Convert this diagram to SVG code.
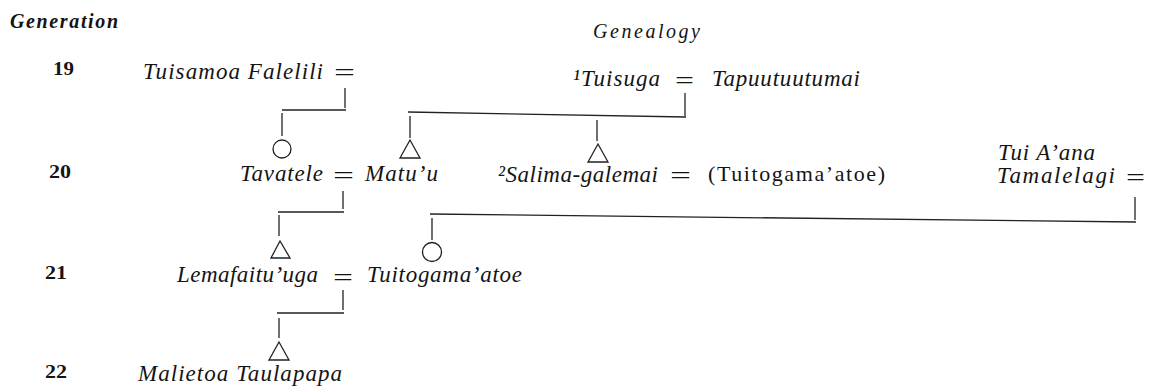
<svg xmlns="http://www.w3.org/2000/svg" width="1155" height="391" viewBox="0 0 1155 391">
<style>
  .t { font-family: "Liberation Serif", "Times New Roman", serif; font-style: italic; font-size: 23px; fill: #141414; }
  .r { font-family: "Liberation Serif", "Times New Roman", serif; font-size: 22px; fill: #141414; }
  .n { font-family: "Liberation Serif", "Times New Roman", serif; font-weight: bold; font-size: 18px; fill: #141414; }
  .h { font-family: "Liberation Serif", "Times New Roman", serif; font-style: italic; font-size: 20px; fill: #141414; }
  .eq { font-family: "Liberation Serif", "Times New Roman", serif; font-size: 24px; fill: #141414; }
  .c line { stroke: #222; stroke-width: 1.3; }
  .sym { fill: none; stroke: #222; stroke-width: 1.3; }
</style>
<rect width="1155" height="391" fill="#ffffff"/>

<g id="headers">
  <text class="h" x="10" y="28" font-weight="bold" textLength="108" lengthAdjust="spacing">Generation</text>
  <text class="h" x="593" y="38" textLength="107" lengthAdjust="spacing">Genealogy</text>
</g>

<g id="generations">
  <text class="n" x="53" y="75" textLength="21" lengthAdjust="spacingAndGlyphs">19</text>
  <text class="n" x="49" y="178" textLength="22" lengthAdjust="spacingAndGlyphs">20</text>
  <text class="n" x="45" y="279" textLength="22" lengthAdjust="spacingAndGlyphs">21</text>
  <text class="n" x="45" y="378" textLength="22" lengthAdjust="spacingAndGlyphs">22</text>
</g>

<g id="connectors" class="c">
  <line x1="345" y1="88" x2="345" y2="108"/>
  <line x1="282" y1="110" x2="346" y2="110"/>
  <line x1="282" y1="113" x2="282" y2="136"/>
  <line x1="685" y1="93" x2="685" y2="116"/>
  <line x1="408" y1="112" x2="686" y2="117"/>
  <line x1="410" y1="116" x2="410" y2="138"/>
  <line x1="597" y1="120" x2="597" y2="141"/>
  <line x1="343" y1="191" x2="343" y2="209"/>
  <line x1="278" y1="212" x2="344" y2="212"/>
  <line x1="279" y1="215" x2="279" y2="236"/>
  <line x1="1135" y1="197" x2="1135" y2="220"/>
  <line x1="430" y1="214" x2="1136" y2="222"/>
  <line x1="432" y1="218" x2="432" y2="240"/>
  <line x1="343" y1="290" x2="343" y2="310"/>
  <line x1="277" y1="313" x2="344" y2="313"/>
  <line x1="279" y1="318" x2="279" y2="338"/>
</g>

<g id="node-tuisamoa">
  <text class="t" x="143" y="79" textLength="180" lengthAdjust="spacing">Tuisamoa Falelili</text>
  <text class="eq" x="334" y="80" textLength="21" lengthAdjust="spacingAndGlyphs">=</text>
</g>

<g id="node-tuisuga">
  <text class="t" x="573" y="86" textLength="87" lengthAdjust="spacing">¹Tuisuga</text>
  <text class="eq" x="675" y="88" textLength="19" lengthAdjust="spacingAndGlyphs">=</text>
  <text class="t" x="712" y="86" textLength="148" lengthAdjust="spacing">Tapuutuutumai</text>
</g>

<g id="node-tavatele">
  <circle class="sym" cx="282" cy="149" r="9"/>
  <text class="t" x="240" y="181" textLength="83" lengthAdjust="spacing">Tavatele</text>
  <text class="eq" x="333" y="183" textLength="21" lengthAdjust="spacingAndGlyphs">=</text>
</g>

<g id="node-matuu">
  <polygon class="sym" points="410,140 400,158 420,158"/>
  <text class="t" x="365" y="181" textLength="73" lengthAdjust="spacing">Matu’u</text>
</g>

<g id="node-salima">
  <polygon class="sym" points="598,144 588,162 608,162"/>
  <text class="t" x="498" y="182" textLength="160" lengthAdjust="spacing">²Salima-galemai</text>
  <text class="eq" x="670" y="183" textLength="21" lengthAdjust="spacingAndGlyphs">=</text>
  <text class="r" x="708" y="181" textLength="177" lengthAdjust="spacing">(Tuitogama’atoe)</text>
</g>

<g id="node-tamalelagi">
  <text class="t" font-size="20" x="998" y="160" textLength="97" lengthAdjust="spacing">Tui A’ana</text>
  <text class="t" font-size="21" x="997" y="183" textLength="118" lengthAdjust="spacing">Tamalelagi</text>
  <text class="eq" x="1126" y="185" textLength="19" lengthAdjust="spacingAndGlyphs">=</text>
</g>

<g id="node-lemafaituuga">
  <polygon class="sym" points="280,241 271,258 290,258"/>
  <text class="t" x="177" y="282" textLength="141" lengthAdjust="spacing">Lemafaitu’uga</text>
  <text class="eq" x="333" y="285" textLength="20" lengthAdjust="spacingAndGlyphs">=</text>
</g>

<g id="node-tuitogamaatoe">
  <circle class="sym" cx="432" cy="252" r="9.5"/>
  <text class="t" x="367" y="282" textLength="155" lengthAdjust="spacing">Tuitogama’atoe</text>
</g>

<g id="node-malietoa">
  <polygon class="sym" points="279,342 269,360 289,360"/>
  <text class="t" x="138" y="381" textLength="204" lengthAdjust="spacing">Malietoa Taulapapa</text>
</g>
</svg>
